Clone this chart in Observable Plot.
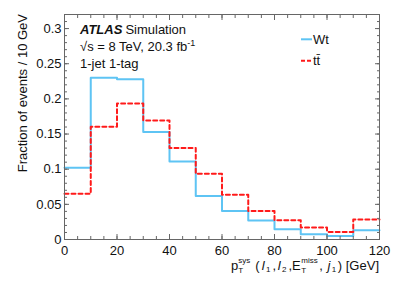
<!DOCTYPE html>
<html><head><meta charset="utf-8">
<script src="https://cdn.jsdelivr.net/npm/d3@7"></script>
<script src="https://cdn.jsdelivr.net/npm/@observablehq/plot@0.6"></script>
<style>
body{margin:0;background:#fff}
svg{font-family:"Liberation Sans",Arial,Helvetica,sans-serif}
</style>
</head><body><div id="chart"></div>
<script>
// bin lower edges (GeV), bin width 10
const binEdges = [0, 10, 20, 30, 40, 50, 60, 70, 80, 90, 100, 110];
const xMax = 120;
const wtValues = [0.102, 0.230, 0.228, 0.153, 0.111, 0.062, 0.0405, 0.027, 0.0146, 0.0075, 0.0051, 0.0132];
const ttbarValues = [0.065, 0.1605, 0.1935, 0.1694, 0.130, 0.0935, 0.0637, 0.0405, 0.0273, 0.017, 0.0108, 0.0283];
const xTicks = [0, 20, 40, 60, 80, 100, 120];
const yTicks = [0, 0.05, 0.1, 0.15, 0.2, 0.25, 0.3];
const yTickLabels = ["0", "0.05", "0.1", "0.15", "0.2", "0.25", "0.3"];
const seriesNames = ["Wt", "tt\u0304"];
const seriesColors = ["#5ec4f4", "#ff1a1a"];

function steps(values) {
  const pts = binEdges.map((e, i) => ({x: e, y: values[i]}));
  pts.push({x: xMax, y: values[values.length - 1]});
  return pts;
}
const wtData = steps(wtValues);
const ttData = steps(ttbarValues);

const axisColor = "#666";
const minorX = d3.range(0, xMax + 0.001, 5);
const minorY = d3.range(0, 0.3201, 0.01);
const blank = () => "";

const chart = Plot.plot({
  width: 399, height: 286,
  marginLeft: 64, marginRight: 20, marginTop: 14, marginBottom: 47,
  style: {fontFamily: "Liberation Sans, Arial, sans-serif", color: "#111", background: "#fff"},
  x: {domain: [0, xMax]},
  y: {domain: [0, 0.32]},
  marks: [
    Plot.line(wtData, {x: "x", y: "y", curve: "step-after", stroke: seriesColors[0], strokeWidth: 2}),
    Plot.line(ttData, {x: "x", y: "y", curve: "step-after", stroke: seriesColors[1], strokeWidth: 2, strokeDasharray: "4,3"}),
    // tick labels
    Plot.axisX(xTicks, {tickSize: 0, tickPadding: 6, fontSize: 13, label: null, tickFormat: d => String(d)}),
    Plot.axisY(yTicks, {tickSize: 0, tickPadding: 3, fontSize: 13, label: null, tickFormat: (d, i) => yTickLabels[i]}),
    // major ticks (inward)
    Plot.axisX(xTicks, {tickSize: -5, stroke: axisColor, tickFormat: blank, label: null}),
    Plot.axisX(xTicks, {anchor: "top", tickSize: -5, stroke: axisColor, tickFormat: blank, label: null}),
    Plot.axisY(yTicks, {tickSize: -5, stroke: axisColor, tickFormat: blank, label: null}),
    Plot.axisY(yTicks, {anchor: "right", tickSize: -5, stroke: axisColor, tickFormat: blank, label: null}),
    // minor ticks
    Plot.axisX(minorX, {tickSize: -3, stroke: axisColor, tickFormat: blank, label: null}),
    Plot.axisX(minorX, {anchor: "top", tickSize: -3, stroke: axisColor, tickFormat: blank, label: null}),
    Plot.axisY(minorY, {tickSize: -3, stroke: axisColor, tickFormat: blank, label: null}),
    Plot.axisY(minorY, {anchor: "right", tickSize: -3, stroke: axisColor, tickFormat: blank, label: null}),
    Plot.frame({stroke: axisColor, strokeWidth: 1})
  ]
});
document.getElementById("chart").appendChild(chart);

const svg = d3.select(chart);
const txtColor = "#111";
const ann = svg.append("g").attr("text-anchor", "start").attr("fill", txtColor);

// ATLAS label block
const t1 = ann.append("text").attr("x", 80).attr("y", 33.5).attr("font-size", 13);
t1.append("tspan").attr("font-weight", "bold").attr("font-style", "italic").text("ATLAS");
t1.append("tspan").attr("dx", 3).text("Simulation");
const t2 = ann.append("text").attr("x", 80).attr("y", 51).attr("font-size", 13);
t2.append("tspan").text("\u221As = 8 TeV, 20.3 fb");
t2.append("tspan").attr("font-size", 9).attr("dy", -5).text("-1");
ann.append("text").attr("x", 80).attr("y", 68).attr("font-size", 13).text("1-jet 1-tag");

// Legend
const legY = [39.3, 60.7];
const legText = [43.8, 65];
seriesNames.forEach((name, i) => {
  ann.append("line").attr("x1", 301).attr("x2", 312).attr("y1", legY[i]).attr("y2", legY[i])
    .attr("stroke", seriesColors[i]).attr("stroke-width", 2)
    .attr("stroke-dasharray", i === 1 ? "4,2" : null);
  ann.append("text").attr("x", 313).attr("y", legText[i]).attr("font-size", 13).text(name);
});

// Y axis title
ann.append("text").attr("transform", "translate(26.5,14) rotate(-90)")
  .attr("text-anchor", "end").attr("font-size", 13)
  .text("Fraction of events / 10 GeV");

// X axis title with stacked sub/superscripts
const g = ann.append("g");
let cx = 0;
function piece(str, opts = {}) {
  const t = g.append("text").attr("x", cx).attr("y", opts.dy || 0)
    .attr("font-size", opts.size || 13)
    .attr("font-style", opts.italic ? "italic" : null)
    .style("white-space", "pre").text(str);
  const w = t.node().getComputedTextLength();
  if (!opts.noAdvance) cx += w + (opts.gap || 0);
  return w;
}
function stacked(sup, sub) {
  const start = cx;
  const w1 = piece(sup, {size: 8, dy: -7, noAdvance: true});
  const w2 = piece(sub, {size: 8, dy: 3, noAdvance: true});
  cx = start + Math.max(w1, w2) + 1.5;
}
piece("p");
stacked("sys", "T");
piece(" (", {gap: 2});
piece("l", {italic: true, gap: 1.5});
piece("1", {size: 8, dy: 2.5, gap: 2});
piece(",", {gap: 1.5});
piece("l", {italic: true, gap: 1.5});
piece("2", {size: 8, dy: 2.5, gap: 2});
piece(",E", {gap: 0.5});
stacked("miss", "T");
piece(", ", {gap: 1});
piece("j", {italic: true, gap: 1.5});
piece("1", {size: 8, dy: 2.5, gap: 1.5});
piece(") [GeV]");
g.attr("transform", `translate(${379 - cx},269.5)`);
</script>
</body></html>
